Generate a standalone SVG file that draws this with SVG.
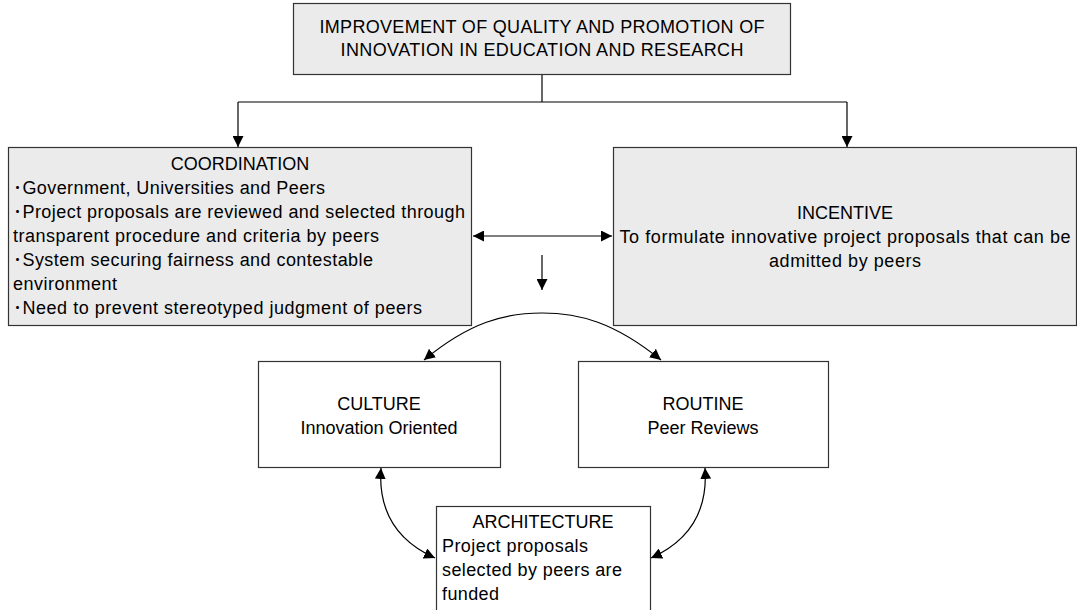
<svg xmlns="http://www.w3.org/2000/svg" width="1077" height="610" viewBox="0 0 1077 610">
<style>
.box{fill:#ebebeb;stroke:#333;stroke-width:1.2}
.wbox{fill:#fff;stroke:#333;stroke-width:1.2}
text{font-family:"Liberation Sans","Noto Sans CJK JP",sans-serif;font-size:18px;fill:#000}
.c{text-anchor:middle}
.ln{fill:none;stroke:#000;stroke-width:1.2}
</style>
<defs>
<marker id="ah" viewBox="0 0 10 10" refX="10" refY="5" markerWidth="11" markerHeight="11" markerUnits="userSpaceOnUse" orient="auto-start-reverse">
<path d="M0,0 L10,5 L0,10 z" fill="#000"/>
</marker>
</defs>
<rect width="1077" height="610" fill="#fff"/>
<g id="connectors">
<polyline class="ln" points="542,75 542,102"/>
<polyline class="ln" points="238,102 847,102"/>
<line class="ln" x1="238" y1="102" x2="238" y2="147" marker-end="url(#ah)"/>
<line class="ln" x1="847" y1="102" x2="847" y2="147" marker-end="url(#ah)"/>
<line class="ln" x1="473" y1="236" x2="612" y2="236" marker-start="url(#ah)" marker-end="url(#ah)"/>
<line class="ln" x1="542" y1="255" x2="542" y2="290" marker-end="url(#ah)"/>
<path class="ln" d="M424,360 C470,322 505,313 542,313 C579,313 614,322 661,360" marker-start="url(#ah)" marker-end="url(#ah)"/>
<path class="ln" d="M381,468 C378,510 395,540 435,558" marker-start="url(#ah)" marker-end="url(#ah)"/>
<path class="ln" d="M705,468 C708,510 691,540 651,558" marker-start="url(#ah)" marker-end="url(#ah)"/>
</g>
<g id="goal">
<rect class="box" x="293.5" y="3.5" width="497" height="71"/>
<text class="c" x="542" y="33" textLength="445" lengthAdjust="spacing">IMPROVEMENT OF QUALITY AND PROMOTION OF</text>
<text class="c" x="542" y="56" textLength="403" lengthAdjust="spacing">INNOVATION IN EDUCATION AND RESEARCH</text>
</g>
<g id="coordination">
<rect class="box" x="8.5" y="147.5" width="463" height="178"/>
<text class="c" x="240" y="170">COORDINATION</text>
<text x="13" y="194" textLength="312" lengthAdjust="spacing">･Government, Universities and Peers</text>
<text x="13" y="218" textLength="452" lengthAdjust="spacing">･Project proposals are reviewed and selected through</text>
<text x="13" y="242" textLength="366" lengthAdjust="spacing">transparent procedure and criteria by peers</text>
<text x="13" y="266" textLength="360" lengthAdjust="spacing">･System securing fairness and contestable</text>
<text x="13" y="290" textLength="104" lengthAdjust="spacing">environment</text>
<text x="13" y="314" textLength="409" lengthAdjust="spacing">･Need to prevent stereotyped judgment of peers</text>
</g>
<g id="incentive">
<rect class="box" x="613.5" y="147.5" width="463" height="178"/>
<text class="c" x="845" y="219">INCENTIVE</text>
<text class="c" x="845" y="243" textLength="451" lengthAdjust="spacing">To formulate innovative project proposals that can be</text>
<text class="c" x="845" y="267" textLength="152" lengthAdjust="spacing">admitted by peers</text>
</g>
<g id="culture">
<rect class="wbox" x="258.5" y="361.5" width="242" height="106"/>
<text class="c" x="379" y="410">CULTURE</text>
<text class="c" x="379" y="434">Innovation Oriented</text>
</g>
<g id="routine">
<rect class="wbox" x="578.5" y="361.5" width="250" height="106"/>
<text class="c" x="703" y="410">ROUTINE</text>
<text class="c" x="703" y="434">Peer Reviews</text>
</g>
<g id="architecture">
<rect class="wbox" x="436.5" y="506.5" width="214" height="120"/>
<text class="c" x="543" y="528">ARCHITECTURE</text>
<text x="442" y="552" textLength="146" lengthAdjust="spacing">Project proposals</text>
<text x="442" y="576" textLength="180" lengthAdjust="spacing">selected by peers are</text>
<text x="442" y="600" textLength="57" lengthAdjust="spacing">funded</text>
</g>
</svg>
